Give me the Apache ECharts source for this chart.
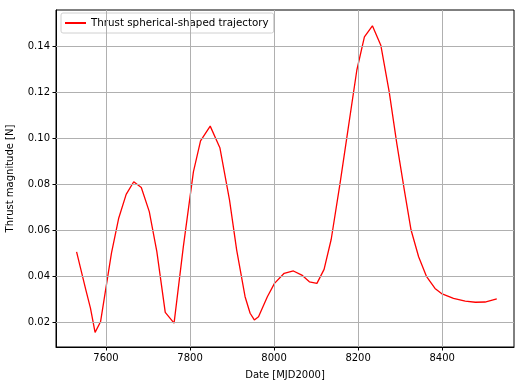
<!DOCTYPE html>
<html><head><meta charset="utf-8">
<script src="https://cdn.jsdelivr.net/npm/echarts@6/dist/echarts.min.js"></script>
<style>html,body{margin:0;padding:0;background:#fff}#c{width:515px;height:383px}</style>
</head><body><div id="c"></div>
<script>
const dates = [7530,7552,7563,7574,7587,7613,7630,7648,7666,7684,7703,7721,7741,7762,7784,7808,7825,7848,7871,7894,7911,7931,7943,7953,7963,7984,8001,8024,8046,8066,8084,8102,8119,8136,8157,8177,8197,8215,8234,8254,8274,8292,8310,8326,8344,8363,8383,8400,8427,8455,8479,8502,8530];
const thrust = [0.0505,0.034,0.026,0.0155,0.0201,0.050,0.065,0.0755,0.081,0.0785,0.068,0.0506,0.0242,0.0195,0.0527,0.0853,0.0988,0.1052,0.0958,0.073,0.0513,0.031,0.0238,0.0209,0.0223,0.031,0.0368,0.0412,0.0422,0.0404,0.0375,0.0368,0.0429,0.056,0.0803,0.105,0.1296,0.144,0.1488,0.1404,0.1201,0.0977,0.0774,0.060,0.0484,0.0397,0.0346,0.0322,0.0303,0.0291,0.0286,0.0287,0.0301];
const xTicks = [7600,7800,8000,8200,8400];
const yTicks = [0.02,0.04,0.06,0.08,0.10,0.12,0.14];
const seriesName = 'Thrust spherical-shaped trajectory';

const font = 'DejaVu Sans';
const chart = echarts.init(document.getElementById('c'), null, {renderer:'canvas'});
const gridColor = '#b0b0b0';
chart.setOption({
  animation:false,
  grid:{left:56,right:1,top:10,bottom:36,show:true,borderColor:'#000',borderWidth:1,backgroundColor:'transparent',
    containLabel:false,outerBoundsMode:'none'},
  legend:{show:true,left:61,top:13,orient:'horizontal',itemWidth:21,itemHeight:2,itemGap:5,
    padding:[5,5,5,4],borderColor:'#d0d0d0',borderWidth:1,borderRadius:2,backgroundColor:'rgba(255,255,255,0.8)',
    textStyle:{fontFamily:font,fontSize:10.3,color:'#000'},
    data:[{name:seriesName,icon:'rect'}]},
  xAxis:{type:'value',min:7481,max:8571,name:'Date [MJD2000]',nameLocation:'middle',nameGap:23,
    nameTextStyle:{fontFamily:font,fontSize:10,color:'#000'},
    axisLine:{show:true,onZero:false,lineStyle:{color:'#000',width:1}},
    axisTick:{show:true,customValues:xTicks,length:3.5,lineStyle:{color:'#000'}},
    axisLabel:{customValues:xTicks,fontFamily:font,fontSize:10,color:'#000',margin:6,formatter:v=>String(v)},
    splitLine:{show:false}},
  yAxis:{type:'value',min:0.00913,max:0.1557,name:'Thrust magnitude [N]',nameLocation:'middle',nameGap:41,nameRotate:90,
    nameTextStyle:{fontFamily:font,fontSize:10,color:'#000'},
    axisLine:{show:true,onZero:false,lineStyle:{color:'#000',width:1}},
    axisTick:{show:true,customValues:yTicks,length:3.5,lineStyle:{color:'#000'}},
    axisLabel:{customValues:yTicks,fontFamily:font,fontSize:10,color:'#000',margin:6,formatter:v=>v.toFixed(2)},
    splitLine:{show:false}},
  series:[
    {type:'line',name:'grid',data:[],z:1,silent:true,
      markLine:{silent:true,symbol:['none','none'],animation:false,label:{show:false},
        lineStyle:{color:gridColor,width:1,type:'solid'},
        data:xTicks.map(v=>({xAxis:v})).concat(yTicks.map(v=>({yAxis:v})))}},
    {type:'line',name:seriesName,data:dates.map((d,i)=>[d,thrust[i]]),showSymbol:false,symbol:'none',z:3,
      lineStyle:{color:'#ff0000',width:1.3},itemStyle:{color:'#ff0000'}}
  ]
});
</script></body></html>
